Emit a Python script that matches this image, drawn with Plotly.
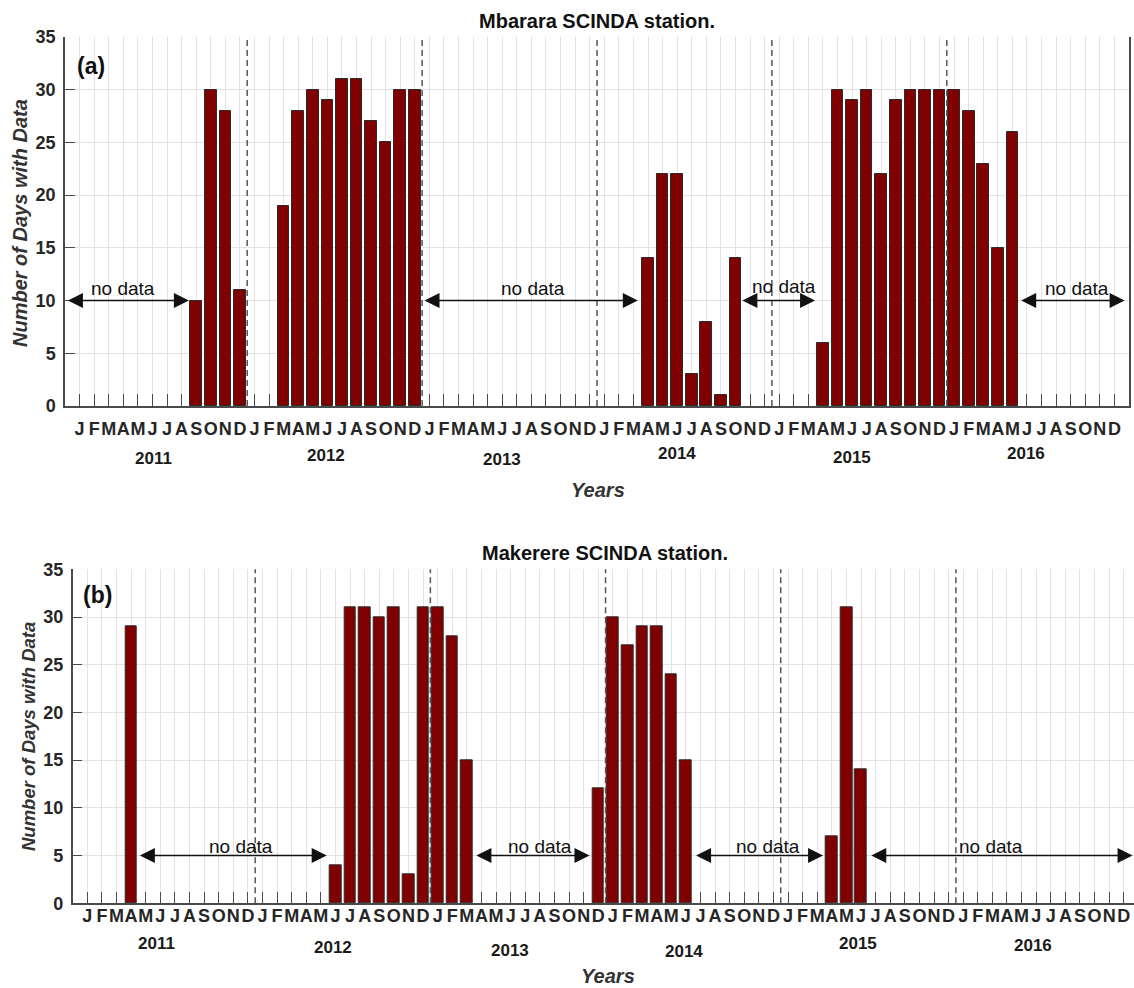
import plotly.graph_objects as go

N = None
# ---- data -------------------------------------------------------------
years = ["2011", "2012", "2013", "2014", "2015", "2016"]
month_letters = ["J", "F", "M", "A", "M", "J", "J", "A", "S", "O", "N", "D"]
month_index = list(range(1, 73))          # Jan 2011 .. Dec 2016
tick_text = month_letters * len(years)

mbarara_2011 = [N, N, N, N, N, N, N, N, 10, 30, 28, 11]
mbarara_2012 = [N, N, 19, 28, 30, 29, 31, 31, 27, 25, 30, 30]
mbarara_2013 = [N, N, N, N, N, N, N, N, N, N, N, N]
mbarara_2014 = [N, N, N, 14, 22, 22, 3, 8, 1, 14, N, N]
mbarara_2015 = [N, N, N, 6, 30, 29, 30, 22, 29, 30, 30, 30]
mbarara_2016 = [30, 28, 23, 15, 26, N, N, N, N, N, N, N]

makerere_2011 = [N, N, N, 29, N, N, N, N, N, N, N, N]
makerere_2012 = [N, N, N, N, N, 4, 31, 31, 30, 31, 3, 31]
makerere_2013 = [31, 28, 15, N, N, N, N, N, N, N, N, 12]
makerere_2014 = [30, 27, 29, 29, 24, 15, N, N, N, N, N, N]
makerere_2015 = [N, N, N, 7, 31, 14, N, N, N, N, N, N]
makerere_2016 = [N, N, N, N, N, N, N, N, N, N, N, N]

mbarara = mbarara_2011 + mbarara_2012 + mbarara_2013 + mbarara_2014 + mbarara_2015 + mbarara_2016
makerere = makerere_2011 + makerere_2012 + makerere_2013 + makerere_2014 + makerere_2015 + makerere_2016

year_boundaries = [12.5, 24.5, 36.5, 48.5, 60.5]

# ---- styling ------------------------------------------------------------
W, H = 1134, 988
FONT = "Liberation Sans, Arial, Helvetica, sans-serif"
BAR = "#800000"
EDGE = "#2b2b2b"
GRID = "#e3e3e3"
AXC = "#4a4a4a"
TXT = "#262626"

fig = go.Figure()
fig.add_trace(go.Bar(x=month_index, y=mbarara, width=0.8, xaxis="x", yaxis="y",
                     marker=dict(color=BAR, line=dict(color=EDGE, width=1)), showlegend=False))
fig.add_trace(go.Bar(x=month_index, y=makerere, width=0.8, xaxis="x2", yaxis="y2",
                     marker=dict(color=BAR, line=dict(color=EDGE, width=1)), showlegend=False))


def px_x(p):
    return p / W


def px_y(p):
    return 1 - p / H


xcommon = dict(tickmode="array", tickvals=month_index, ticktext=tick_text, tickangle=0,
               ticks="inside", ticklen=12, tickcolor=AXC, tickwidth=1, automargin=False,
               showgrid=True, gridcolor=GRID, gridwidth=1, zeroline=False,
               showline=True, linecolor=AXC, linewidth=1.5, layer="below traces",
               tickfont=dict(family=FONT, size=18, color=TXT, weight="bold"))
ycommon = dict(range=[0, 35], tickvals=[0, 5, 10, 15, 20, 25, 30, 35], ticks="inside",
               ticklen=10, tickcolor=AXC, showgrid=True, gridcolor=GRID, zeroline=False,
               showline=True, linecolor=AXC, linewidth=1.5, mirror=True, automargin=False,
               tickfont=dict(family=FONT, size=18, color=TXT, weight="bold"),
               ticklabelstandoff=4)

fig.update_layout(
    width=W, height=H, margin=dict(l=0, r=0, t=0, b=0, autoexpand=False),
    paper_bgcolor="white", plot_bgcolor="white", bargap=0,
    xaxis=dict(domain=[px_x(65), px_x(1129)], range=[0, 73], anchor="y",
               ticklabelstandoff=6, **xcommon),
    yaxis=dict(domain=[px_y(406), px_y(37)], anchor="x", **ycommon),
    xaxis2=dict(domain=[px_x(72.7), 1.0], range=[0, 72.7], anchor="y2",
                ticklabelstandoff=-5, **xcommon),
    yaxis2=dict(domain=[px_y(903.3), px_y(569.3)], anchor="x2", **ycommon),
)

# year boundary dashed lines
for xr, yr in (("x", "y domain"), ("x2", "y2 domain")):
    for b in year_boundaries:
        fig.add_shape(type="line", xref=xr, yref=yr, x0=b, x1=b, y0=0, y1=1,
                      line=dict(color="#555555", width=1.5, dash="6px,4px"))

ann = []


def ptext(text, x, y, size, color="#111", italic=False, angle=0, xref="paper"):
    f = dict(family=FONT, size=size, color=color, weight="bold")
    if italic:
        f["style"] = "italic"
    ann.append(dict(text=text, xref=xref, yref="paper", x=x, y=y, showarrow=False,
                    xanchor="center", yanchor="middle", textangle=angle, font=f))


# titles
ptext("Mbarara SCINDA station.", px_x(597), px_y(21), 20)
ptext("Makerere SCINDA station.", px_x(605), px_y(553), 20)
# panel letters
ptext("(a)", px_x(91), px_y(66), 23)
ptext("(b)", px_x(97), px_y(595), 23)
# y titles
ptext("Number of Days with Data", px_x(20), px_y(223), 20, "#333", True, -90)
ptext("Number of Days with Data", px_x(28), px_y(737), 18.5, "#333", True, -90)
# x titles
ptext("Years", px_x(598), px_y(490), 20, "#333", True)
ptext("Years", px_x(608), px_y(976), 20, "#333", True)

# year labels under month letters
year_pos_a = [(6.05, 458), (17.9, 455), (30.0, 459), (41.98, 453), (54.0, 457), (65.9, 453)]
year_pos_b = [(5.75, 943), (17.85, 947), (29.95, 950), (41.9, 951), (53.8, 943), (65.75, 945)]
for yl, (xv, py) in zip(years, year_pos_a):
    ptext(yl, xv, px_y(py), 17, "#1a1a1a", xref="x")
for yl, (xv, py) in zip(years, year_pos_b):
    ptext(yl, xv, px_y(py), 17, "#1a1a1a", xref="x2")

# "no data" arrows
arrows_a = [(0.1, 8.5, 3.95, 11.1), (24.56, 39.3, 32.1, 11.1), (46.37, 51.46, 49.3, 11.35), (65.5, 72.7, 69.4, 11.1)]
arrows_b = [(4.5, 17.4, 11.5, 5.95), (27.55, 35.4, 32.0, 5.95), (42.6, 51.4, 47.6, 5.95), (54.6, 72.6, 62.9, 5.95)]
for (xr, yr, yv, arr) in (("x", "y", 10, arrows_a), ("x2", "y2", 5, arrows_b)):
    for (x0, x1, xt, yt) in arr:
        ann.append(dict(text="", xref=xr, yref=yr, axref=xr, ayref=yr, x=x1, y=yv, ax=x0, ay=yv,
                        showarrow=True, arrowhead=2, startarrowhead=2, arrowside="end+start",
                        arrowsize=2.0, startarrowsize=2.0, arrowwidth=1.5, arrowcolor="#111",
                        standoff=0, startstandoff=0))
        ann.append(dict(text="no data", xref=xr, yref=yr, x=xt, y=yt, showarrow=False,
                        xanchor="center", yanchor="middle",
                        font=dict(family=FONT, size=19, color="#111")))

fig.update_layout(annotations=ann)
fig.write_html("out.html", config={"displayModeBar": False},
               post_script="document.body.style.margin='0';document.body.style.overflow='hidden';")
